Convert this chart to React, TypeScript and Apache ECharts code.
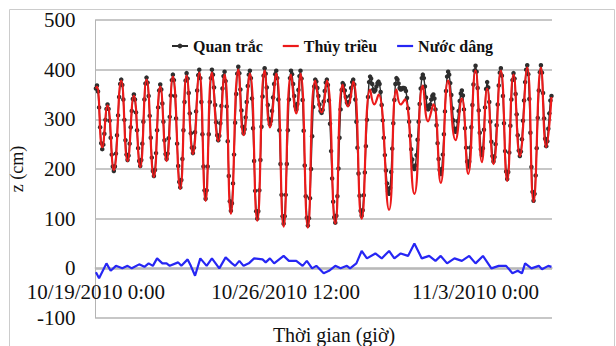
import React, { useEffect, useRef } from "react";
import * as echarts from "echarts";

// x axis: hours since 10/19/2010 0:00
const xTickHours = [0, 180, 360];
const xTickLabels = ["10/19/2010 0:00", "10/26/2010 12:00", "11/3/2010 0:00"];
const yMin = -100;
const yMax = 500;
const yStep = 100;

const seriesNames = ["Quan trắc", "Thủy triều", "Nước dâng"];

// Observed water level, hourly (cm)
const observed = [
  362, 368,
  356, 324, 284, 252, 240,
  249, 271, 299, 321, 330,
  321, 297, 263, 229, 205, 196,
  205, 231, 268, 308, 345, 371, 380,
  369, 340, 299, 258, 229, 218,
  227, 251, 284, 317, 341, 350,
  340, 314, 278, 242, 216, 206,
  218, 251, 295, 340, 372, 384,
  374, 347, 307, 263, 223, 196, 186,
  198, 232, 278, 324, 358, 370,
  360, 332, 295, 258, 230, 220,
  231, 262, 305, 348, 379, 390,
  379, 347, 302, 251, 206, 174, 163,
  178, 220, 278, 335, 378, 393,
  382, 353, 312, 272, 243, 232,
  243, 274, 316, 358, 389, 400,
  383, 335, 270, 205, 157, 140,
  157, 205, 270, 335, 383, 400,
  390, 364, 329, 294, 268, 258,
  267, 292, 327, 362, 387, 396,
  377, 326, 256, 186, 135, 116,
  131, 171, 229, 293, 351, 392, 406,
  393, 360, 318, 285, 272,
  280, 304, 335, 367, 390, 398,
  383, 342, 282, 216, 156, 115, 100,
  115, 157, 218, 285, 346, 388, 403,
  392, 364, 329, 301, 290,
  297, 317, 344, 371, 391, 398,
  383, 340, 278, 210, 148, 105, 90,
  105, 148, 210, 278, 340, 383, 398,
  391, 371, 347, 327, 320,
  331, 359, 387, 398,
  382, 339, 277, 207, 145, 102, 86,
  101, 141, 200, 266, 325, 366, 380,
  376, 363, 347, 330, 317, 313,
  319, 336, 357, 374, 380,
  369, 338, 291, 236, 181, 134, 103, 92,
  106, 145, 201, 263, 320, 359, 373,
  369, 358, 345, 334, 330,
  335, 347, 363, 375, 380,
  370, 340, 295, 243, 191, 146, 116, 106,
  117, 147, 193, 246, 299, 345, 375, 386,
  382, 371, 360, 356,
  359, 366, 373, 376,
  371, 355, 329, 298, 263, 228, 197, 171, 155, 150,
  162, 194, 241, 292, 339, 371, 383,
  380, 372, 363, 360,
  361, 363, 363, 362,
  357, 343, 322, 295, 267, 240, 219, 205, 200,
  207, 228, 259, 295, 331, 362, 383, 390,
  383, 366, 344, 327, 320,
  323, 330, 340, 347, 350,
  342, 320, 288, 252, 220, 198, 190,
  200, 229, 270, 316, 357, 386, 396,
  390, 373, 349, 322, 298, 281, 275,
  281, 296, 317, 337, 352, 358,
  348, 320, 282, 243, 215, 205,
  215, 243, 284, 329, 370, 398, 408,
  396, 363, 318, 273, 240, 228,
  242, 279, 324, 361, 375,
  364, 335, 295, 255, 226, 215,
  224, 250, 288, 330, 368, 394, 403,
  388, 347, 292, 236, 195, 180,
  194, 233, 287, 340, 379, 393,
  382, 351, 310, 268, 237, 226,
  235, 260, 297, 338, 375, 400, 409,
  391, 341, 273, 204, 154, 136,
  150, 187, 242, 303, 358, 395, 409,
  394, 353, 302, 261, 246,
  256, 281, 312, 338, 347,
];

// Predicted tide: high / low turning points (hour, cm)
const tideHours = [
  0, 1, 6, 11, 17, 24, 30, 36, 42, 48, 55, 61, 67, 73, 80, 86, 92, 98, 104, 110,
  116, 122, 128, 135, 140, 146, 153, 160, 165, 171, 178, 185, 190, 194, 201, 208, 214, 219, 227, 234,
  239, 244, 252, 260, 264, 268, 278, 285, 289, 293, 302, 310, 315, 320, 327, 334, 341, 347, 353, 360,
  366, 371, 377, 384, 390, 396, 402, 409, 415, 422, 427, 432,
];
const tideValues = [
  362, 366, 244, 328, 198, 378, 216, 348, 204, 380, 184, 366, 216, 386, 160, 388, 230, 394, 136, 394,
  256, 390, 110, 400, 268, 392, 96, 398, 284, 392, 84, 390, 312, 392, 82, 378, 314, 378, 90, 370,
  326, 376, 100, 360, 330, 350, 118, 360, 330, 340, 150, 368, 296, 330, 172, 378, 258, 342, 190, 398,
  214, 362, 210, 398, 176, 390, 226, 404, 134, 404, 244, 345,
];

// Storm surge (hour, cm)
const surgeHours = [
  0, 3, 10, 14, 19, 25, 30, 34, 41, 46, 50, 54, 58, 63, 67, 70, 78, 81, 87, 90,
  94, 99, 105, 110, 117, 123, 129, 132, 136, 140, 145, 150, 158, 161, 165, 169, 178, 183, 190, 196,
  200, 205, 209, 216, 221, 227, 232, 238, 241, 247, 252, 257, 265, 271, 278, 283, 289, 296, 302, 309,
  316, 322, 327, 333, 340, 347, 354, 360, 367, 375, 382, 389, 395, 400, 404, 407, 413, 420, 423, 429, 432,
];
const surgeValues = [
  -8, -20, 10, -5, 5, 0, 5, 0, 8, 3, 10, 5, 20, 10, 10, 5, 12, 5, 18, 5,
  -15, 20, 5, 20, 0, 22, 10, 5, 15, 5, 10, 20, 18, 12, 20, 10, 25, 15, 15, 5,
  15, 0, 5, -10, -5, 5, 0, 5, 0, 10, 35, 20, 30, 20, 35, 20, 30, 25, 50, 20,
  25, 15, 25, 10, 20, 15, 25, 10, 25, 0, 5, 5, -10, -5, -10, 10, 0, 5, -2, 5, 3,
];

const SERIF = "'Times New Roman', 'Liberation Serif', serif";
const LINE_ICON = "path://M0 0H16V2.2H0Z";
const TEXT = "#111111";

export default function App() {
  const ref = useRef<HTMLDivElement>(null);

  useEffect(() => {
    if (!ref.current) return;
    const chart = echarts.init(ref.current, null, { renderer: "svg" });
    chart.setOption({
      animation: false,
      backgroundColor: "#ffffff",
      grid: { left: 85, right: 64, top: 20, bottom: 28 },
      legend: {
        top: 33,
        left: 166,
        itemWidth: 16,
        itemHeight: 6,
        itemGap: 20,
        symbolKeepAspect: true,
        data: [
          { name: seriesNames[0] },
          { name: seriesNames[1], icon: LINE_ICON },
          { name: seriesNames[2], icon: LINE_ICON },
        ],
        textStyle: { fontFamily: SERIF, fontSize: 16, fontWeight: "bold", color: TEXT },
      },
      xAxis: {
        type: "value",
        min: -0.5,
        max: 432.5,
        position: "bottom",
        offset: -50,
        axisLine: { onZero: false, lineStyle: { color: "#b4b4b4", width: 1.5 } },
        axisTick: { show: false },
        splitLine: { show: false },
        axisLabel: {
          customValues: xTickHours,
          formatter: (v: number) => {
            const k = xTickHours.indexOf(Math.round(v));
            return k >= 0 ? xTickLabels[k] : "";
          },
          fontFamily: SERIF,
          fontSize: 21,
          color: TEXT,
          margin: 13,
        },
      },
      yAxis: {
        type: "value",
        min: yMin,
        max: yMax,
        interval: yStep,
        name: "z (cm)",
        nameLocation: "middle",
        nameGap: 46,
        nameTextStyle: { fontFamily: SERIF, fontSize: 18, color: TEXT },
        axisLine: { show: true, onZero: false, lineStyle: { color: "#b4b4b4", width: 1 } },
        axisTick: { show: false },
        splitLine: { lineStyle: { color: "#b4b4b4", width: 1.5 } },
        axisLabel: { fontFamily: SERIF, fontSize: 21, color: TEXT, margin: 20 },
      },
      series: [
        {
          name: seriesNames[0],
          type: "line",
          data: observed.map((v, i) => [i, v]),
          symbol: "circle",
          symbolSize: 4.5,
          showSymbol: true,
          color: "#2b2b2b",
          itemStyle: { color: "#2e2e2e" },
          lineStyle: { color: "#2b2b2b", width: 1.4 },
          z: 2,
        },
        {
          name: seriesNames[1],
          type: "line",
          data: tideHours.map((h, i) => [h, tideValues[i]]),
          symbol: "none",
          smooth: 0.5,
          color: "#ec1a1a",
          lineStyle: { color: "#ec1a1a", width: 2.2 },
          z: 3,
        },
        {
          name: seriesNames[2],
          type: "line",
          data: surgeHours.map((h, i) => [h, surgeValues[i]]),
          symbol: "none",
          color: "#2626f4",
          lineStyle: { color: "#2626f4", width: 2.2 },
          z: 3,
        },
      ],
      graphic: [
        {
          type: "rect",
          left: 7,
          top: 7,
          shape: { width: 605, height: 345 },
          style: { fill: "none", stroke: "#cccccc", lineWidth: 1 },
          silent: true,
        },
        {
          type: "text",
          x: 334,
          y: 335,
          style: {
            text: "Thời gian (giờ)",
            fontFamily: SERIF,
            fontSize: 20,
            fill: TEXT,
            textAlign: "center",
            textVerticalAlign: "middle",
          },
        },
      ],
    });
    return () => chart.dispose();
  }, []);

  return (
    <div
      ref={ref}
      style={{ position: "fixed", left: 0, top: 0, width: 616, height: 346 }}
    />
  );
}
